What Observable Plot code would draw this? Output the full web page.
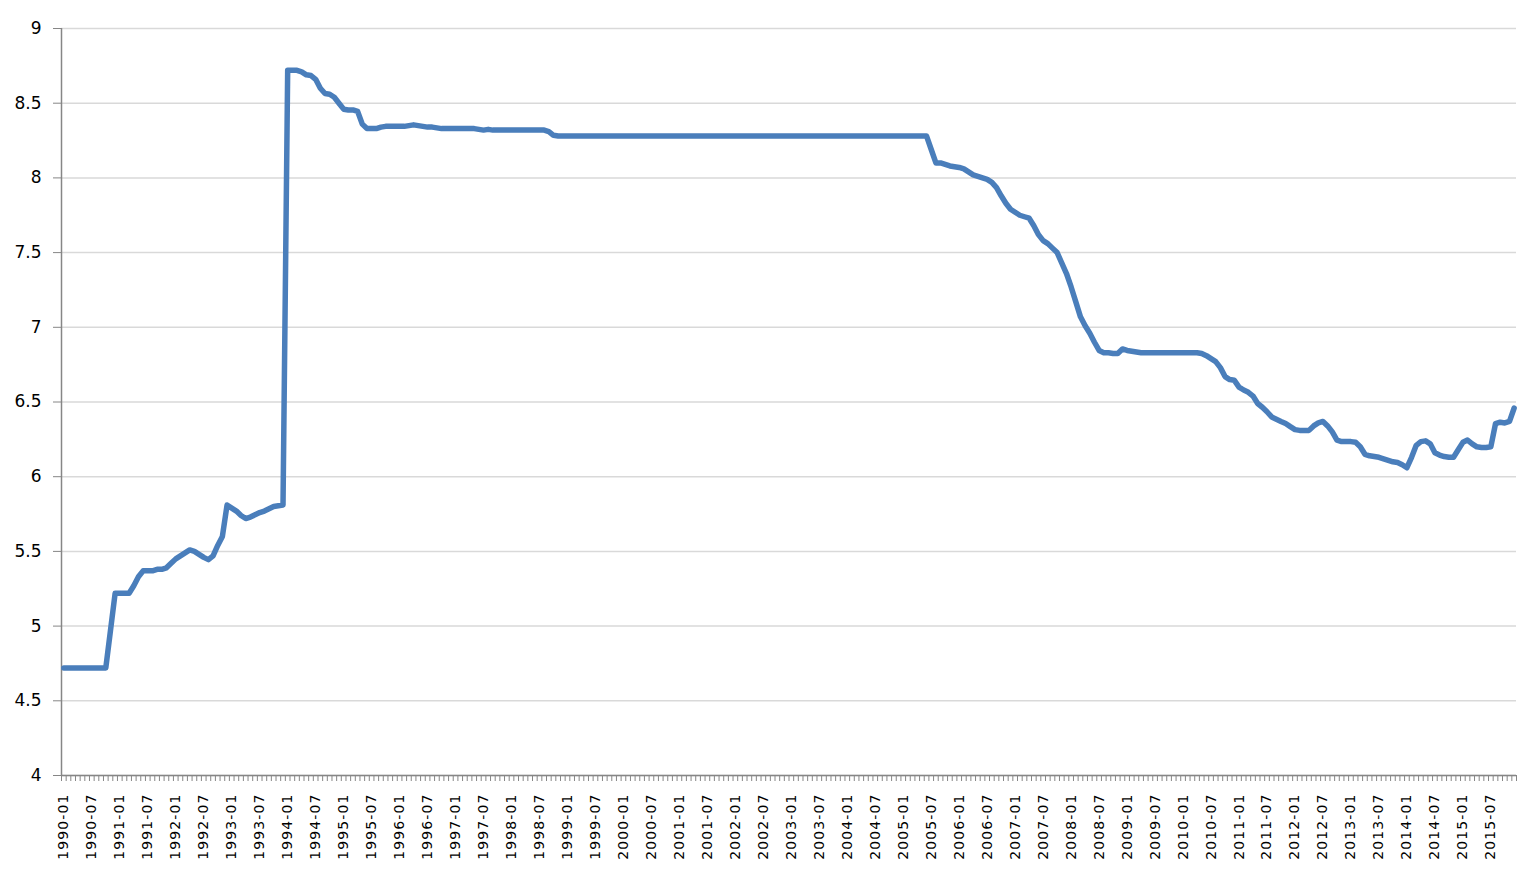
<!DOCTYPE html>
<html>
<head>
<meta charset="utf-8">
<script src="https://cdn.jsdelivr.net/npm/d3@7"></script>
<script src="https://cdn.jsdelivr.net/npm/@observablehq/plot@0.6"></script>
<style>
  html, body { margin: 0; padding: 0; background: #fff; }
  #chart svg g[aria-label="x-axis tick label"] text { letter-spacing: 1.1px; }
</style>
</head>
<body>
<div id="chart"></div>
<script>
// Monthly values, one array per year (Jan..Dec)
const y1990 = [4.72,4.72,4.72,4.72,4.72,4.72,4.72,4.72,4.72,4.72,4.97,5.22];
const y1991 = [5.22,5.22,5.22,5.27,5.33,5.37,5.37,5.37,5.38,5.38,5.39,5.42];
const y1992 = [5.45,5.47,5.49,5.51,5.50,5.48,5.46,5.445,5.47,5.54,5.60,5.81];
const y1993 = [5.79,5.77,5.74,5.72,5.73,5.745,5.76,5.77,5.785,5.80,5.805,5.81];
const y1994 = [8.72,8.72,8.72,8.71,8.69,8.685,8.66,8.60,8.565,8.56,8.54,8.50];
const y1995 = [8.46,8.455,8.455,8.445,8.36,8.33,8.33,8.33,8.34,8.345,8.345,8.345];
const y1996 = [8.345,8.345,8.35,8.355,8.35,8.345,8.34,8.34,8.335,8.33,8.33,8.33];
const y1997 = [8.33,8.33,8.33,8.33,8.33,8.325,8.32,8.325,8.32,8.32,8.32,8.32];
const y1998 = [8.32,8.32,8.32,8.32,8.32,8.32,8.32,8.32,8.31,8.285,8.28,8.28];
const y1999 = [8.28,8.28,8.28,8.28,8.28,8.28,8.28,8.28,8.28,8.28,8.28,8.28];
const y2000 = [8.28,8.28,8.28,8.28,8.28,8.28,8.28,8.28,8.28,8.28,8.28,8.28];
const y2001 = [8.28,8.28,8.28,8.28,8.28,8.28,8.28,8.28,8.28,8.28,8.28,8.28];
const y2002 = [8.28,8.28,8.28,8.28,8.28,8.28,8.28,8.28,8.28,8.28,8.28,8.28];
const y2003 = [8.28,8.28,8.28,8.28,8.28,8.28,8.28,8.28,8.28,8.28,8.28,8.28];
const y2004 = [8.28,8.28,8.28,8.28,8.28,8.28,8.28,8.28,8.28,8.28,8.28,8.28];
const y2005 = [8.28,8.28,8.28,8.28,8.28,8.28,8.19,8.10,8.10,8.09,8.08,8.075];
const y2006 = [8.07,8.06,8.04,8.02,8.01,8.00,7.99,7.97,7.935,7.88,7.83,7.79];
const y2007 = [7.77,7.75,7.74,7.73,7.68,7.62,7.58,7.56,7.53,7.50,7.43,7.36];
const y2008 = [7.27,7.17,7.07,7.01,6.96,6.90,6.845,6.83,6.83,6.825,6.825,6.855];
const y2009 = [6.845,6.84,6.835,6.83,6.83,6.83,6.83,6.83,6.83,6.83,6.83,6.83];
const y2010 = [6.83,6.83,6.83,6.83,6.825,6.81,6.79,6.77,6.73,6.67,6.65,6.645];
const y2011 = [6.60,6.58,6.565,6.54,6.49,6.465,6.435,6.40,6.385,6.37,6.356,6.335];
const y2012 = [6.315,6.31,6.31,6.31,6.34,6.36,6.37,6.34,6.30,6.245,6.235,6.235];
const y2013 = [6.235,6.23,6.20,6.15,6.14,6.135,6.13,6.12,6.11,6.10,6.095,6.08];
const y2014 = [6.06,6.13,6.21,6.235,6.24,6.22,6.16,6.145,6.135,6.13,6.13,6.18];
const y2015 = [6.23,6.245,6.22,6.20,6.195,6.195,6.20,6.355,6.365,6.36,6.37,6.46];

const years = [1990,1991,1992,1993,1994,1995,1996,1997,1998,1999,2000,2001,2002,
               2003,2004,2005,2006,2007,2008,2009,2010,2011,2012,2013,2014,2015];
const yearly = [y1990,y1991,y1992,y1993,y1994,y1995,y1996,y1997,y1998,y1999,y2000,
                y2001,y2002,y2003,y2004,y2005,y2006,y2007,y2008,y2009,y2010,y2011,
                y2012,y2013,y2014,y2015];
const monthCodes = ["01","02","03","04","05","06","07","08","09","10","11","12"];
const yTicks = [4,4.5,5,5.5,6,6.5,7,7.5,8,8.5,9];

// Build table
const data = [];
yearly.forEach((arr, yi) => arr.forEach((v, m) => {
  data.push({i: data.length, label: `${years[yi]}-${monthCodes[m]}`, v});
}));
const labels = data.map(d => d.label);
const n = data.length;
const labelTicks = data.filter(d => d.label.endsWith("-01") || d.label.endsWith("-07")).map(d => d.i + 0.5);

const chart = Plot.plot({
  width: 1531,
  height: 890,
  marginLeft: 61,
  marginRight: 15,
  marginTop: 28,
  marginBottom: 115,
  x: {domain: [0, n]},
  y: {domain: [4, 9]},
  style: {fontFamily: "'DejaVu Sans', sans-serif", background: "#fff", color: "#000"},
  marks: [
    Plot.gridY({ticks: yTicks, stroke: "#d9d9d9", strokeOpacity: 1, strokeWidth: 1.5}),
    Plot.axisY({ticks: yTicks, tickSize: 8, tickPadding: 12, tickFormat: d => String(d),
                fontSize: 17, stroke: "#868686", strokeOpacity: 1, fill: "#000", label: null}),
    Plot.axisX({ticks: d3.range(0, n + 1), tickSize: 6, tickFormat: () => "",
                stroke: "#868686", strokeOpacity: 1, label: null}),
    Plot.axisX({ticks: labelTicks, tickSize: 0, tickPadding: 18, tickRotate: -90,
                tickFormat: d => labels[Math.round(d - 0.5)], fontSize: 14, fill: "#000", label: null}),
    Plot.ruleX([0], {stroke: "#868686", strokeWidth: 1.5}),
    Plot.ruleY([4], {stroke: "#868686", strokeWidth: 1.5}),
    Plot.line(data, {x: d => d.i + 0.5, y: "v", stroke: "#4a7ebb", strokeWidth: 5.5,
                     strokeLinejoin: "round", strokeLinecap: "round"})
  ]
});
document.getElementById("chart").appendChild(chart);
</script>
</body>
</html>
